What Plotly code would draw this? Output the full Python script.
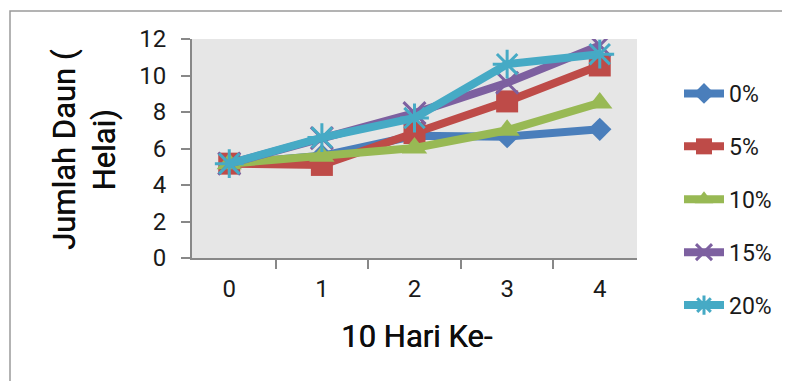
import plotly.graph_objects as go

days = ["0", "1", "2", "3", "4"]
series_names = ["0%", "5%", "10%", "15%", "20%"]
v0 = [5.17, 5.6, 6.7, 6.65, 7.05]
v5 = [5.17, 5.1, 6.85, 8.58, 10.55]
v10 = [5.17, 5.57, 6.03, 7.0, 8.5]
v15 = [5.17, 6.57, 7.94, 9.6, 11.65]
v20 = [5.17, 6.6, 7.67, 10.62, 11.17]
values = [v0, v5, v10, v15, v20]

colors = ["#4a7ebb", "#be4b48", "#98b954", "#7d60a0", "#46aac5"]
symbols = ["diamond", "square", "triangle-up", "x-thin-open", "asterisk-open"]
sizes = [18, 22, 22, 22, 24]

# page body has an 8px margin, so the figure is laid out 8px smaller
OFF = 8
W, H = 790 - OFF, 381 - OFF
L = 192 - OFF
T = 39 - OFF
pw = 445
ph = 219
R = W - L - pw
B = H - T - ph

def px_x(p):
    return (p - OFF - L) / pw

def px_y(p):
    return 1 - (p - OFF - T) / ph

fig = go.Figure()
for i, (name, vals) in enumerate(zip(series_names, values)):
    open_sym = symbols[i].endswith("open")
    fig.add_trace(go.Scatter(
        x=days, y=vals, name=name, mode="lines+markers",
        legendgroup=name,
        line=dict(color=colors[i], width=8),
        marker=dict(symbol=symbols[i], size=sizes[i], color=colors[i],
                    line=dict(color=colors[i], width=3 if open_sym else 0)),
    ))

fig.add_shape(type="rect", xref="paper", yref="paper",
              x0=px_x(10), x1=px_x(820), y0=px_y(420), y1=px_y(11),
              line=dict(color="#9a9a9a", width=1.5), layer="below")

title_font = dict(family="Roboto", size=31, color="#0d0d0d",
                  shadow="0.5px 0px 0px #0d0d0d")
fig.add_annotation(text="Jumlah Daun (<br>Helai)", textangle=-90,
                   xref="paper", yref="paper", x=px_x(84), y=px_y(150),
                   xanchor="center", yanchor="middle", showarrow=False,
                   font=title_font)
fig.add_annotation(text="10 Hari Ke-",
                   xref="paper", yref="paper", x=px_x(416), y=px_y(336),
                   xanchor="center", yanchor="middle", showarrow=False,
                   font=title_font)

fig.update_layout(
    width=W, height=H,
    margin=dict(l=L, r=R, t=T, b=B, autoexpand=False),
    paper_bgcolor="white",
    plot_bgcolor="#e6e6e6",
    font=dict(family="Roboto", color="#1a1a1a"),
    showlegend=True,
    legend=dict(x=px_x(679), xanchor="left", y=px_y(72), yanchor="top",
                font=dict(size=23, color="#1a1a1a"),
                tracegroupgap=20, itemwidth=40, maxheight=400,
                bgcolor="rgba(0,0,0,0)"),
    xaxis=dict(
        type="category", automargin=False,
        showgrid=False, zeroline=False,
        showline=True, linecolor="#888888", linewidth=2,
        ticks="outside", tickson="boundaries", ticklen=9,
        tickcolor="#888888", tickwidth=2, ticklabelstandoff=8,
        tickfont=dict(size=24, color="#1a1a1a"),
    ),
    yaxis=dict(
        range=[0, 12], dtick=2, automargin=False,
        showgrid=False, zeroline=False,
        showline=True, linecolor="#888888", linewidth=2,
        ticks="outside", ticklen=9, tickcolor="#888888", tickwidth=2,
        ticklabelstandoff=10,
        tickfont=dict(size=24, color="#1a1a1a"),
    ),
)

fig.write_html("out.html")
